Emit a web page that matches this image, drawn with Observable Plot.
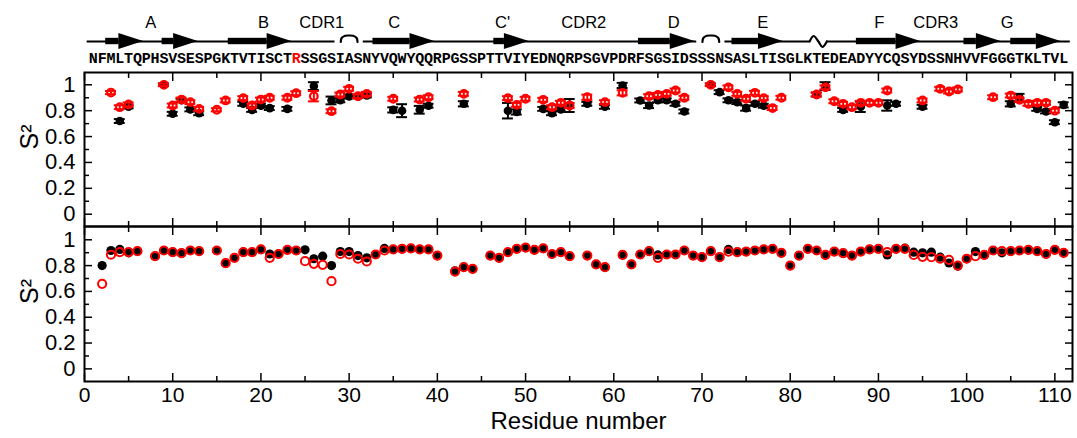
<!DOCTYPE html>
<html><head><meta charset="utf-8">
<script src="https://cdn.jsdelivr.net/npm/d3@7"></script>
<script src="https://cdn.jsdelivr.net/npm/@observablehq/plot@0.6"></script>
<style>
body{margin:0;background:#fff}
#c{position:relative;width:1077px;height:438px;font-family:"Liberation Sans",Arial,Helvetica,sans-serif}
#c svg{position:absolute;left:0}
</style>
</head><body><div id="c"></div>
<script>
// ---------- data ----------
const sequence = "NFMLTQPHSVSESPGKTVTISCTRSSGSIASNYVQWYQQRPGSSPTTVIYEDNQRPSGVPDRFSGSIDSSSNSASLTISGLKTEDEADYYCQSYDSSNHVVFGGGTKLTVL";
const highlighted = [24];
const ssLabel   = ["A", "B", "CDR1", "C", "C'", "CDR2", "D", "E", "F", "CDR3", "G"];
const ssLabelAt = [7.5, 20.3, 26.9, 35.1, 47.4, 56.6, 66.8, 76.9, 90.1, 96.5, 104.6];
const strandStart = [2.4, 8.8, 16.3, 32.7, 46.4, 62.8, 73.4, 87.5, 99.7, 105.0];
const strandEnd   = [6.7, 12.9, 23.5, 39.7, 50.4, 69.2, 79.2, 94.8, 103.9, 110.7];
const arcLoopAt = [30.0, 71.0];
const twistAt = [83.2];
const coilFrom = 0.3, coilTo = 111.75;

const topBlackRes = [4,5,9,10,11,12,13,18,19,20,21,23,26,28,29,30,31,32,35,36,38,39,43,48,49,52,53,54,55,57,59,61,63,64,65,66,67,68,71,72,73,74,75,76,77,83,84,86,88,91,92,95,105,106,108,109,110,111];
const topBlackS2  = [0.72,0.83,1.0,0.776,0.88,0.81,0.78,0.853,0.806,0.838,0.82,0.814,0.99,0.879,0.88,0.91,0.91,0.917,0.806,0.80,0.807,0.838,0.853,0.80,0.79,0.814,0.78,0.81,0.84,0.853,0.83,0.995,0.879,0.84,0.88,0.88,0.853,0.794,1.0,0.943,0.88,0.866,0.82,0.853,0.838,0.925,0.99,0.806,0.83,0.84,0.853,0.83,0.853,0.90,0.814,0.794,0.711,0.845];
const topBlackErr = [0.015,0.012,0.01,0.015,0.012,0.015,0.015,0.015,0.015,0.015,0.015,0.015,0.03,0.03,0.015,0.015,0.012,0.015,0.02,0.05,0.03,0.015,0.02,0.06,0.02,0.015,0.015,0.015,0.05,0.015,0.015,0.02,0.015,0.02,0.015,0.015,0.015,0.015,0.01,0.015,0.015,0.015,0.02,0.015,0.015,0.015,0.03,0.015,0.04,0.04,0.015,0.015,0.02,0.03,0.015,0.015,0.015,0.02];

const topRedRes = [3,4,5,9,10,11,12,13,15,16,18,19,20,21,23,24,26,28,29,30,31,32,35,38,39,43,48,49,50,52,53,54,55,57,59,61,64,65,66,67,68,71,73,74,75,76,77,78,79,83,84,85,86,87,88,89,90,91,95,97,98,99,103,105,106,107,108,109,110];
const topRedS2  = [0.94,0.827,0.848,1.0,0.84,0.886,0.866,0.814,0.807,0.879,0.897,0.84,0.886,0.90,0.90,0.935,0.912,0.796,0.925,0.969,0.912,0.93,0.892,0.886,0.904,0.93,0.897,0.845,0.892,0.884,0.827,0.861,0.84,0.904,0.866,0.938,0.912,0.922,0.93,0.956,0.90,1.0,0.98,0.93,0.892,0.938,0.897,0.82,0.90,0.925,0.98,0.873,0.853,0.827,0.861,0.861,0.861,0.956,0.879,0.969,0.948,0.964,0.904,0.917,0.884,0.853,0.861,0.861,0.80];
const topRedErr = [0.012,0.015,0.015,0.01,0.015,0.015,0.015,0.015,0.012,0.015,0.015,0.015,0.015,0.015,0.015,0.015,0.04,0.015,0.015,0.015,0.015,0.015,0.015,0.015,0.015,0.015,0.015,0.015,0.015,0.015,0.015,0.015,0.02,0.02,0.015,0.02,0.015,0.015,0.015,0.015,0.015,0.01,0.015,0.015,0.015,0.015,0.015,0.015,0.015,0.015,0.015,0.015,0.015,0.015,0.015,0.015,0.015,0.015,0.015,0.015,0.015,0.015,0.015,0.015,0.015,0.015,0.015,0.015,0.015];

const botRes = [2,3,4,5,6,8,9,10,11,12,13,15,16,17,18,19,20,21,22,23,24,25,26,27,28,29,30,31,32,33,34,35,36,37,38,39,40,42,43,44,46,47,48,49,50,51,52,53,54,55,57,58,59,61,62,63,64,65,66,67,68,69,70,71,72,73,74,75,76,77,78,79,80,81,82,83,84,85,86,87,88,89,90,91,92,93,94,95,96,97,98,99,100,101,102,103,104,105,106,107,108,109,110,111];
const botBlackS2 = [0.80,0.917,0.925,0.899,0.912,0.873,0.917,0.904,0.896,0.917,0.912,0.917,0.819,0.86,0.904,0.904,0.925,0.89,0.89,0.922,0.917,0.922,0.853,0.873,0.80,0.909,0.909,0.878,0.86,0.886,0.933,0.925,0.93,0.933,0.925,0.925,0.878,0.76,0.788,0.775,0.878,0.86,0.904,0.93,0.94,0.922,0.933,0.89,0.904,0.873,0.878,0.809,0.788,0.883,0.809,0.886,0.912,0.883,0.886,0.886,0.917,0.878,0.865,0.912,0.865,0.925,0.904,0.909,0.917,0.925,0.93,0.899,0.80,0.878,0.93,0.917,0.883,0.909,0.896,0.878,0.909,0.925,0.93,0.883,0.93,0.935,0.904,0.899,0.904,0.865,0.82,0.796,0.853,0.909,0.883,0.917,0.899,0.912,0.917,0.922,0.912,0.89,0.922,0.899];
const botRedS2   = [0.659,0.884,0.904,0.905,0.912,0.873,0.917,0.904,0.896,0.917,0.912,0.917,0.819,0.86,0.904,0.904,0.925,0.86,0.89,0.922,0.917,0.834,0.814,0.806,0.679,0.89,0.886,0.853,0.832,0.886,0.917,0.925,0.93,0.933,0.925,0.925,0.878,0.754,0.788,0.775,0.878,0.86,0.904,0.93,0.94,0.922,0.933,0.89,0.904,0.873,0.878,0.809,0.788,0.883,0.809,0.886,0.912,0.86,0.886,0.886,0.917,0.878,0.865,0.912,0.865,0.909,0.904,0.909,0.917,0.925,0.93,0.899,0.80,0.878,0.93,0.917,0.883,0.909,0.896,0.878,0.909,0.925,0.93,0.904,0.93,0.93,0.883,0.868,0.865,0.853,0.845,0.80,0.853,0.873,0.883,0.917,0.912,0.912,0.917,0.922,0.912,0.89,0.922,0.899];

const xMajor = [0,10,20,30,40,50,60,70,80,90,100,110];
const xMinor = [5,15,25,35,45,55,65,75,85,95,105];
const yMajor = [0,0.2,0.4,0.6,0.8,1];
const yMinor = [0.1,0.3,0.5,0.7,0.9];
const yTickText = d => String(+d.toFixed(1));
const xLabel = "Residue number";
const yLabel = "S\u00b2";

// ---------- layout / style ----------
const W = 1077, ML = 84, MR = 5;
const xDomain = [0, 112];
const RED = "#ff0000";
const FONT = "Liberation Sans, Arial, Helvetica, sans-serif";
const root = document.getElementById("c");
const common = {width: W, marginLeft: ML, marginRight: MR, style: {background: "transparent", overflow: "visible", fontFamily: FONT}};

function frameTicks() {
  const s = {stroke: "black", strokeWidth: 1.5, tickFormat: () => "", label: null};
  return [
    Plot.axisX({...s, anchor: "bottom", ticks: xMajor, tickSize: 8, dy: -8}),
    Plot.axisX({...s, anchor: "bottom", ticks: xMinor, tickSize: 5, dy: -5}),
    Plot.axisX({...s, anchor: "top", ticks: xMajor, tickSize: 8, dy: 8}),
    Plot.axisX({...s, anchor: "top", ticks: xMinor, tickSize: 5, dy: 5}),
    Plot.axisY({...s, anchor: "left", ticks: yMajor, tickSize: 8, dx: 8}),
    Plot.axisY({...s, anchor: "left", ticks: yMinor, tickSize: 5, dx: 5}),
    Plot.axisY({...s, anchor: "right", ticks: yMajor, tickSize: 8, dx: -8}),
    Plot.axisY({...s, anchor: "right", ticks: yMinor, tickSize: 5, dx: -5}),
    Plot.axisY({anchor: "left", ticks: yMajor, tickSize: 0, tickPadding: 9, tickFormat: yTickText, fontSize: 22, label: null}),
    Plot.text([yLabel], {frameAnchor: "left", dx: -55, rotate: -90, fontSize: 25}),
    Plot.frame({stroke: "black", strokeWidth: 2})
  ];
}

// ---------- structure strip ----------
const lineY = 41, labelY = 22, seqY = 58, headLen = 2.8;
const strands = strandStart.map((s, i) => ({id: i, s, e: strandEnd[i]}));
const heads = strands.flatMap(d => [
  {id: d.id, x: d.e - headLen, y1: lineY - 8, y2: lineY + 8},
  {id: d.id, x: d.e, y1: lineY, y2: lineY}
]);
const gaps = [...arcLoopAt.map(c => [c - 1.6, c + 1.6]), ...twistAt.map(c => [c - 1.0, c + 0.95])].sort((a, b) => a[0] - b[0]);
const coil = [];
let from = coilFrom;
for (const [a, b] of gaps) { coil.push({x1: from, x2: a}); from = b; }
coil.push({x1: from, x2: coilTo});
const arcShape = [[-0.95, 41.5], [-0.85, 37.5], [-0.45, 35.3], [0, 35], [0.45, 35.3], [0.85, 37.5], [0.95, 41.5]];
const twistShape = [[-1.0, 41], [-0.55, 35.5], [0, 41], [0.45, 46.5], [0.95, 41]];
const loopPts = [
  ...arcLoopAt.flatMap((c, k) => arcShape.map(([dx, y]) => ({id: "a" + k, x: c + dx, y}))),
  ...twistAt.flatMap((c, k) => twistShape.map(([dx, y]) => ({id: "t" + k, x: c + dx, y})))
];
const seqChars = Array.from(sequence, (ch, i) => ({res: i + 1, ch}));
const ssLabels = ssLabel.map((t, i) => ({t, x: ssLabelAt[i]}));

const strip = Plot.plot({
  ...common, height: 66, marginTop: 0, marginBottom: 0,
  x: {domain: xDomain, axis: null},
  y: {domain: [0, 66], reverse: true, axis: null},
  color: {type: "identity"},
  marks: [
    Plot.ruleY(coil, {y: lineY, x1: "x1", x2: "x2", stroke: "black", strokeWidth: 2}),
    Plot.rect(strands, {x1: "s", x2: d => d.e - headLen, y1: lineY - 3.2, y2: lineY + 3.2, fill: "black"}),
    Plot.areaY(heads, {x: "x", y1: "y1", y2: "y2", z: "id", fill: "black", curve: "linear"}),
    Plot.line(loopPts, {x: "x", y: "y", z: "id", curve: "catmull-rom", stroke: "black", strokeWidth: 2.2}),
    Plot.text(ssLabels, {x: "x", y: labelY, text: "t", fontSize: 16.5, fill: "black"}),
    Plot.text(seqChars, {x: "res", y: seqY, text: "ch", fontSize: 15, fontWeight: "bold",
      fontFamily: "Courier New, Liberation Mono, monospace",
      fill: d => highlighted.includes(d.res) ? RED : "black"})
  ]
});
strip.style.top = "0px";

// ---------- top panel ----------
const topBlack = topBlackRes.map((r, i) => ({r, v: topBlackS2[i], e: topBlackErr[i]}));
const topRed = topRedRes.map((r, i) => ({r, v: topRedS2[i], e: topRedErr[i]}));
const cap = 0.62;
function errMarks(data, color) {
  return [
    Plot.ruleX(data, {x: "r", y1: d => d.v - d.e, y2: d => d.v + d.e, stroke: color, strokeWidth: 2}),
    Plot.ruleY(data, {y: d => d.v - d.e, x1: d => d.r - cap, x2: d => d.r + cap, stroke: color, strokeWidth: 2}),
    Plot.ruleY(data, {y: d => d.v + d.e, x1: d => d.r - cap, x2: d => d.r + cap, stroke: color, strokeWidth: 2})
  ];
}
const topPanel = Plot.plot({
  ...common, height: 166, marginTop: 12, marginBottom: 0,
  x: {domain: xDomain},
  y: {domain: [-0.095, 1.095]},
  marks: [
    ...frameTicks(),
    ...errMarks(topBlack, "black"),
    Plot.dot(topBlack, {x: "r", y: "v", r: 4.3, fill: "black", stroke: "none"}),
    ...errMarks(topRed, RED),
    Plot.dot(topRed, {x: "r", y: "v", r: 3.8, fill: "none", stroke: RED, strokeWidth: 2.2})
  ]
});
topPanel.style.top = "60px";

// ---------- bottom panel ----------
const botBlack = botRes.map((r, i) => ({r, v: botBlackS2[i]}));
const botRed = botRes.map((r, i) => ({r, v: botRedS2[i]}));
const botPanel = Plot.plot({
  ...common, height: 212, marginTop: 0, marginBottom: 57,
  x: {domain: xDomain},
  y: {domain: [-0.098, 1.103]},
  marks: [
    ...frameTicks(),
    Plot.axisX({anchor: "bottom", ticks: xMajor, tickSize: 0, tickPadding: 6, fontSize: 21, label: null}),
    Plot.text([xLabel], {frameAnchor: "bottom", dy: 47, fontSize: 24}),
    Plot.dot(botBlack, {x: "r", y: "v", r: 4.6, fill: "black", stroke: "none"}),
    Plot.dot(botRed, {x: "r", y: "v", r: 4.1, fill: "none", stroke: RED, strokeWidth: 2})
  ]
});
botPanel.style.top = "226px";

root.append(strip, topPanel, botPanel);
</script></body></html>
